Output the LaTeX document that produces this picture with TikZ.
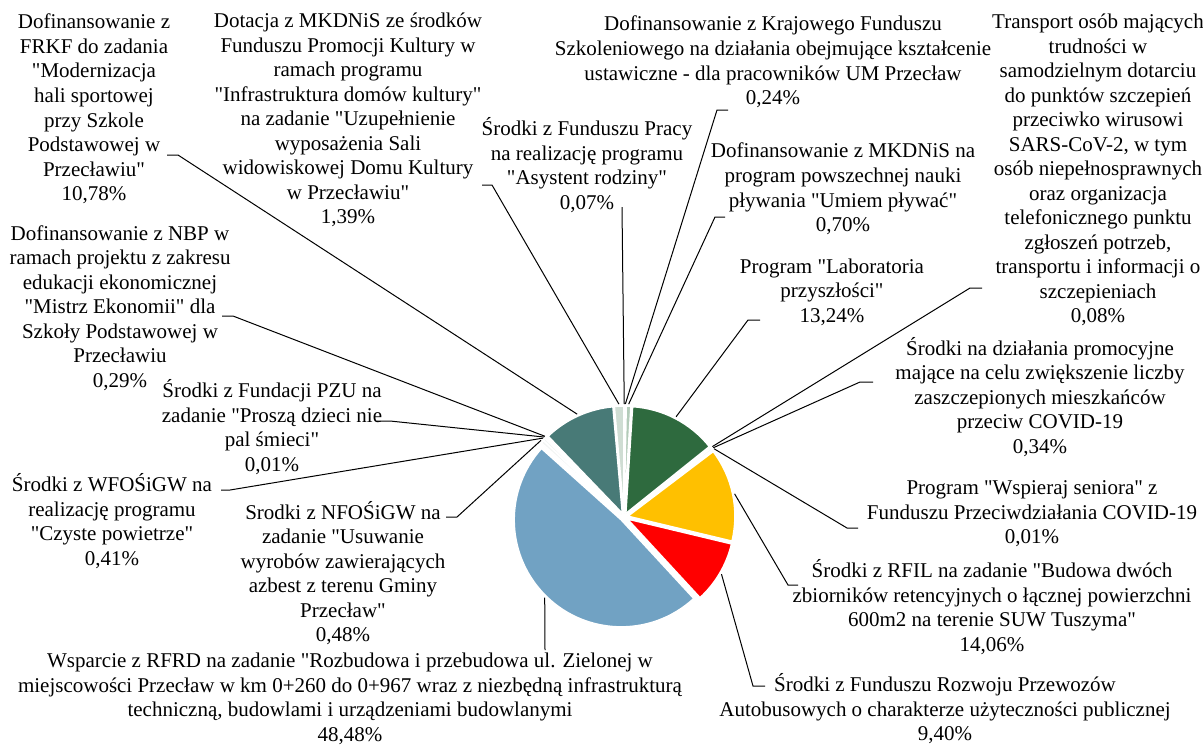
\documentclass[tikz,border=0pt]{standalone}
\usepackage{fontspec}
\setmainfont{Liberation Serif}[Ligatures=TeXOff]
\usetikzlibrary{calc}
\definecolor{cteal}{HTML}{487A77}
\definecolor{cdgreen}{HTML}{2E6A3E}
\definecolor{cyellow}{HTML}{FFC000}
\definecolor{cred}{HTML}{FF0000}
\definecolor{cblue}{HTML}{71A2C3}
\definecolor{clight}{HTML}{CFDDD3}
\definecolor{clightb}{HTML}{B3CBB9}
\definecolor{clightc}{HTML}{DDE7E0}
\definecolor{cpale}{HTML}{F2F5F4}
\tikzset{
  lbl/.style={align=center, inner sep=0pt, font=\fontsize{15.75}{18.4}\selectfont},
  lead/.style={draw=black, line width=0.75pt},
  slicestyle/.style={draw=white, line width=1.1pt, line join=round},
}
\newcommand\pieslice[3]{%
  \pgfmathsetmacro\sa{90-3.6*#1}%
  \pgfmathsetmacro\ea{90-3.6*#2}%
  \pgfmathsetmacro\ma{(\sa+\ea)/2}%
  \filldraw[fill=#3, slicestyle] (\ma:4) -- ++(\sa:107) arc[start angle=\sa, end angle=\ea, radius=107] -- cycle;}
\newcommand\leadpt[2]{\coordinate (#1) at ({90-3.6*#2}:113);}
\begin{document}
\begin{tikzpicture}[x=0.75pt,y=-0.75pt]
\fill[white] (0,0) rectangle (1203,744);
\useasboundingbox (0,0) rectangle (1203,744);

% ---------- pie ----------
\begin{scope}[shift={(624,517)}]
\begin{scope}[x=0.75pt,y=0.75pt]
\pieslice{0}{0.07}{clightc}
\pieslice{0.07}{0.31}{clightc}
\pieslice{0.31}{1.01}{clightb}
\pieslice{1.01}{14.25}{cdgreen}
\pieslice{14.25}{14.33}{cpale}
\pieslice{14.33}{14.67}{cpale}
\pieslice{14.67}{14.68}{cpale}
\pieslice{14.68}{28.74}{cyellow}
\pieslice{28.74}{38.14}{cred}
\pieslice{38.14}{86.62}{cblue}
\pieslice{86.62}{87.10}{cpale}
\pieslice{87.10}{87.51}{cpale}
\pieslice{87.51}{87.52}{cpale}
\pieslice{87.52}{87.81}{cpale}
\pieslice{87.81}{98.59}{cteal}
\pieslice{98.59}{100}{clight}
\leadpt{pA}{0.035}
\leadpt{pB}{0.19}
\leadpt{pC}{0.66}
\leadpt{pD}{7.63}
\leadpt{pE}{14.29}
\leadpt{pF}{14.50}
\leadpt{pG}{14.675}
\leadpt{pH}{21.71}
\leadpt{pI}{33.44}
\leadpt{pJ}{62.38}
\leadpt{pK}{86.86}
\leadpt{pL}{87.305}
\leadpt{pM}{87.515}
\leadpt{pN}{87.665}
\leadpt{pO}{93.2}
\leadpt{pP}{99.285}
\end{scope}
\end{scope}

% ---------- labels ----------
\node[lbl] (lFRKF) at (94,109) {Dofinansowanie z\\FRKF do zadania\\"Modernizacja\\hali sportowej\\przy Szkole\\Podstawowej w\\Przecławiu"\\10,78\%};
\node[lbl] (lDot) at (348,120) {Dotacja z MKDNiS ze środków\\Funduszu Promocji Kultury w\\ramach programu\\"Infrastruktura domów kultury"\\na zadanie "Uzupełnienie\\wyposażenia Sali\\widowiskowej Domu Kultury\\w Przecławiu"\\1,39\%};
\node[lbl] (lFP) at (587,165) {Środki z Funduszu Pracy\\na realizację programu\\"Asystent rodziny"\\0,07\%};
\node[lbl] (lKFS) at (773,62) {Dofinansowanie z Krajowego Funduszu\\Szkoleniowego na działania obejmujące kształcenie\\ustawiczne - dla pracowników UM Przecław\\0,24\%};
\node[lbl] (lPlyw) at (843,189) {Dofinansowanie z MKDNiS na\\program powszechnej nauki\\pływania "Umiem pływać"\\0,70\%};
\node[lbl] (lLab) at (832,292) {Program "Laboratoria\\przyszłości"\\13,24\%};
\node[lbl] (lTr) at (1098,170) {Transport osób mających\\trudności w\\samodzielnym dotarciu\\do punktów szczepień\\przeciwko wirusowi\\SARS-CoV-2, w tym\\osób niepełnosprawnych\\oraz organizacja\\telefonicznego punktu\\zgłoszeń potrzeb,\\transportu i informacji o\\szczepieniach\\0,08\%};
\node[lbl] (lProm) at (1040,397) {Środki na działania promocyjne\\mające na celu zwiększenie liczby\\zaszczepionych mieszkańców\\przeciw COVID-19\\0,34\%};
\node[lbl] (lSen) at (1032,514) {Program "Wspieraj seniora" z\\Funduszu Przeciwdziałania COVID-19\\0,01\%};
\node[lbl] (lRFIL) at (992,607) {Środki z RFIL na zadanie "Budowa dwóch\\zbiorników retencyjnych o łącznej powierzchni\\600m2 na terenie SUW Tuszyma"\\14,06\%};
\node[lbl] (lBus) at (945,709) {Środki z Funduszu Rozwoju Przewozów\\Autobusowych o charakterze użyteczności publicznej\\9,40\%};
\node[lbl] (lRFRD) at (350,699) {Wsparcie z RFRD na zadanie "Rozbudowa i przebudowa ul. Zielonej w\\miejscowości Przecław w km 0+260 do 0+967 wraz z niezbędną infrastrukturą\\techniczną, budowlami i urządzeniami budowlanymi\\48,48\%};
\node[lbl] (lNF) at (343,573) {Srodki z NFOŚiGW na\\zadanie "Usuwanie\\wyrobów zawierających\\azbest z terenu Gminy\\Przecław"\\0,48\%};
\node[lbl] (lWF) at (112,521) {Środki z WFOŚiGW na\\realizację programu\\"Czyste powietrze"\\0,41\%};
\node[lbl] (lPZU) at (272,427) {Środki z Fundacji PZU na\\zadanie "Proszą dzieci nie\\pal śmieci"\\0,01\%};
\node[lbl] (lNBP) at (120,308) {Dofinansowanie z NBP w\\ramach projektu z zakresu\\edukacji ekonomicznej\\"Mistrz Ekonomii" dla\\Szkoły Podstawowej w\\Przecławiu\\0,29\%};

% ---------- leader stubs ----------
\coordinate (aFRKF) at (167,155); \coordinate (bFRKF) at (178,155);
\coordinate (aDot) at (482,185);  \coordinate (bDot) at (492,185);
\coordinate (aFP) at (622,207);
\coordinate (aKFS) at (728,110);  \coordinate (bKFS) at (717,110);
\coordinate (aPlyw) at (725,217); \coordinate (bPlyw) at (715,217);
\coordinate (aLab) at (760,320);  \coordinate (bLab) at (748,320);
\coordinate (aTr) at (982,288);   \coordinate (bTr) at (970,288);
\coordinate (aProm) at (873,382); \coordinate (bProm) at (860,382);
\coordinate (aSen) at (858,528);  \coordinate (bSen) at (847,528);
\coordinate (aRFIL) at (798,585); \coordinate (bRFIL) at (788,585);
\coordinate (aBus) at (765,686);  \coordinate (bBus) at (753,686);
\coordinate (aRFRD) at (545,650);
\coordinate (aNF) at (446,517);   \coordinate (bNF) at (457,517);
\coordinate (aWF) at (221,490);   \coordinate (bWF) at (230,490);
\coordinate (aPZU) at (377,421);  \coordinate (bPZU) at (390,421);
\coordinate (aNBP) at (222,316);  \coordinate (bNBP) at (233,316);

% ---------- leaders ----------
\draw[lead] (aFRKF) -- (bFRKF) -- (pO);
\draw[lead] (aDot) -- (bDot) -- (pP);
\draw[lead] (aFP) -- (pA);
\draw[lead] (aKFS) -- (bKFS) -- (pB);
\draw[lead] (aPlyw) -- (bPlyw) -- (pC);
\draw[lead] (aLab) -- (bLab) -- (pD);
\draw[lead] (aTr) -- (bTr) -- (pE);
\draw[lead] (aProm) -- (bProm) -- (pF);
\draw[lead] (aSen) -- (bSen) -- (pG);
\draw[lead] (aRFIL) -- (bRFIL) -- (pH);
\draw[lead] (aBus) -- (bBus) -- (pI);
\draw[lead] (aRFRD) -- (pJ);
\draw[lead] (aNF) -- (bNF) -- (pK);
\draw[lead] (aWF) -- (bWF) -- (pL);
\draw[lead] (aPZU) -- (bPZU) -- (pM);
\draw[lead] (aNBP) -- (bNBP) -- (pN);
\end{tikzpicture}
\end{document}
